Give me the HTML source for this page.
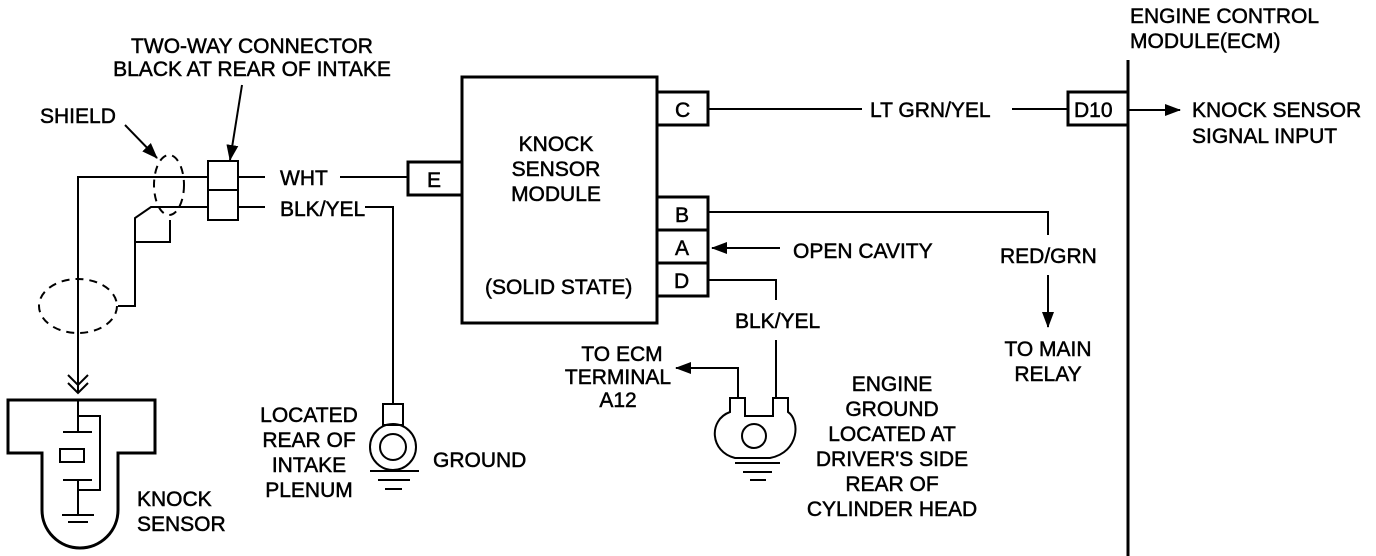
<!DOCTYPE html>
<html><head><style>
html,body{margin:0;padding:0;background:#fff;}
svg{display:block;}
text{font-family:"Liberation Sans",sans-serif;font-size:21px;fill:#000;stroke:#000;stroke-width:0.5;}
</style></head><body>
<svg width="1376" height="556" viewBox="0 0 1376 556" xmlns="http://www.w3.org/2000/svg">
<defs>
<marker id="ah2" markerWidth="16" markerHeight="12" refX="15" refY="6" orient="auto" markerUnits="userSpaceOnUse"><path d="M0,0 L16,6 L0,12 z" fill="#000"/></marker></defs>
<g stroke="#000" fill="none" stroke-width="2">
<rect x="462" y="77" width="195" height="246" stroke-width="3"/>
<rect x="657" y="92" width="51" height="33" stroke-width="3"/>
<rect x="657" y="197" width="51" height="33" stroke-width="3"/>
<rect x="657" y="230" width="51" height="33" stroke-width="3"/>
<rect x="657" y="263" width="51" height="33" stroke-width="3"/>
<rect x="408" y="162" width="54" height="33" stroke-width="3"/>
<line x1="1128" y1="60" x2="1128" y2="556" stroke-width="3"/>
<rect x="1068" y="92" width="60" height="33" stroke-width="3"/>
<line x1="708" y1="109" x2="862" y2="109"/>
<line x1="1012" y1="109" x2="1068" y2="109"/>
<line x1="1128" y1="110" x2="1180" y2="110" marker-end="url(#ah2)"/>
<polyline points="708,212 1048,212 1048,235"/>
<line x1="1048" y1="275" x2="1048" y2="327" marker-end="url(#ah2)"/>
<line x1="780" y1="248" x2="712" y2="248" marker-end="url(#ah2)"/>
<polyline points="708,280 776,280 776,300"/>
<line x1="776" y1="340" x2="776" y2="398"/>
<polyline points="738,398 738,368 676,368" marker-end="url(#ah2)"/>
<path d="M730,398 L745,398 L745,416 L773,416 L773,398 L788,398 L788,412 C800,420 800,452 770,458 L735,458 C710,452 708,420 730,412 Z"/>
<circle cx="754" cy="436" r="12"/>
<line x1="735" y1="463" x2="780" y2="463"/><line x1="743" y1="472" x2="772" y2="472"/><line x1="750" y1="480" x2="766" y2="480"/>
<rect x="208" y="161" width="30" height="29"/><rect x="208" y="190" width="30" height="30"/>
<polyline points="208,177 78,177 78,392"/>
<line x1="238" y1="177" x2="265" y2="177"/><line x1="340" y1="177" x2="408" y2="177"/>
<polyline points="208,207 151,207 135,218 135,306 118,306"/>
<polyline points="135,242 170,242 170,220"/>
<line x1="238" y1="207" x2="265" y2="207"/>
<polyline points="365,207 393,207 393,404"/>
<ellipse cx="169" cy="185" rx="15" ry="30" stroke-dasharray="8,6"/>
<ellipse cx="78" cy="306" rx="39" ry="27" stroke-dasharray="8,6"/>
<polyline points="68,375 78,385 88,375"/><polyline points="68,383 78,393 88,383"/>
<line x1="125" y1="125" x2="157" y2="158" marker-end="url(#ah2)"/>
<line x1="242" y1="85" x2="230" y2="160" marker-end="url(#ah2)"/>
<path d="M8,400 L155,400 L155,453 L118,453 L118,510 A38,38 0 0 1 42,510 L42,453 L8,453 Z" stroke-width="3"/>
<line x1="78" y1="400" x2="78" y2="432"/>
<polyline points="78,416 100,416 100,490 78,490"/>
<line x1="63" y1="432" x2="92" y2="432"/>
<rect x="60" y="449" width="24" height="13"/>
<line x1="63" y1="480" x2="92" y2="480"/>
<line x1="78" y1="480" x2="78" y2="515"/>
<line x1="62" y1="515" x2="94" y2="515"/><line x1="68" y1="522" x2="88" y2="522"/>
<rect x="383" y="404" width="20" height="21"/>
<circle cx="393" cy="447" r="23"/><circle cx="393" cy="447" r="13"/>
<line x1="370" y1="471" x2="419" y2="471"/><line x1="378" y1="480" x2="410" y2="480"/><line x1="385" y1="489" x2="402" y2="489"/>
</g>
<text x="675" y="117">C</text><text x="675" y="222">B</text><text x="675" y="255">A</text><text x="674" y="288">D</text>
<text x="427" y="187">E</text><text x="1074" y="117">D10</text>
<text x="556" y="151" text-anchor="middle">KNOCK</text>
<text x="556" y="176" text-anchor="middle">SENSOR</text>
<text x="556" y="201" text-anchor="middle">MODULE</text>
<text x="485" y="294">(SOLID STATE)</text>
<text x="870" y="117">LT GRN/YEL</text>
<text x="1130" y="23">ENGINE CONTROL</text><text x="1130" y="48">MODULE(ECM)</text>
<text x="1192" y="117">KNOCK SENSOR</text><text x="1192" y="143">SIGNAL INPUT</text>
<text x="793" y="258">OPEN CAVITY</text>
<text x="1000" y="263">RED/GRN</text>
<text x="1048" y="356" text-anchor="middle">TO MAIN</text><text x="1048" y="381" text-anchor="middle">RELAY</text>
<text x="735" y="328">BLK/YEL</text>
<text x="622" y="361" text-anchor="middle">TO ECM</text><text x="618" y="384" text-anchor="middle">TERMINAL</text><text x="618" y="407" text-anchor="middle">A12</text>
<g text-anchor="middle"><text x="892" y="391">ENGINE</text><text x="892" y="416">GROUND</text><text x="892" y="441">LOCATED AT</text><text x="892" y="466">DRIVER'S SIDE</text><text x="892" y="491">REAR OF</text><text x="892" y="516">CYLINDER HEAD</text>
<text x="309" y="422">LOCATED</text><text x="309" y="447">REAR OF</text><text x="309" y="472">INTAKE</text><text x="309" y="497">PLENUM</text>
<text x="252" y="53">TWO-WAY CONNECTOR</text><text x="252" y="76">BLACK AT REAR OF INTAKE</text></g>
<text x="433" y="467">GROUND</text>
<text x="137" y="506">KNOCK</text><text x="137" y="531">SENSOR</text>
<text x="40" y="123">SHIELD</text>
<text x="280" y="185">WHT</text><text x="280" y="216">BLK/YEL</text>
</svg>
</body></html>
